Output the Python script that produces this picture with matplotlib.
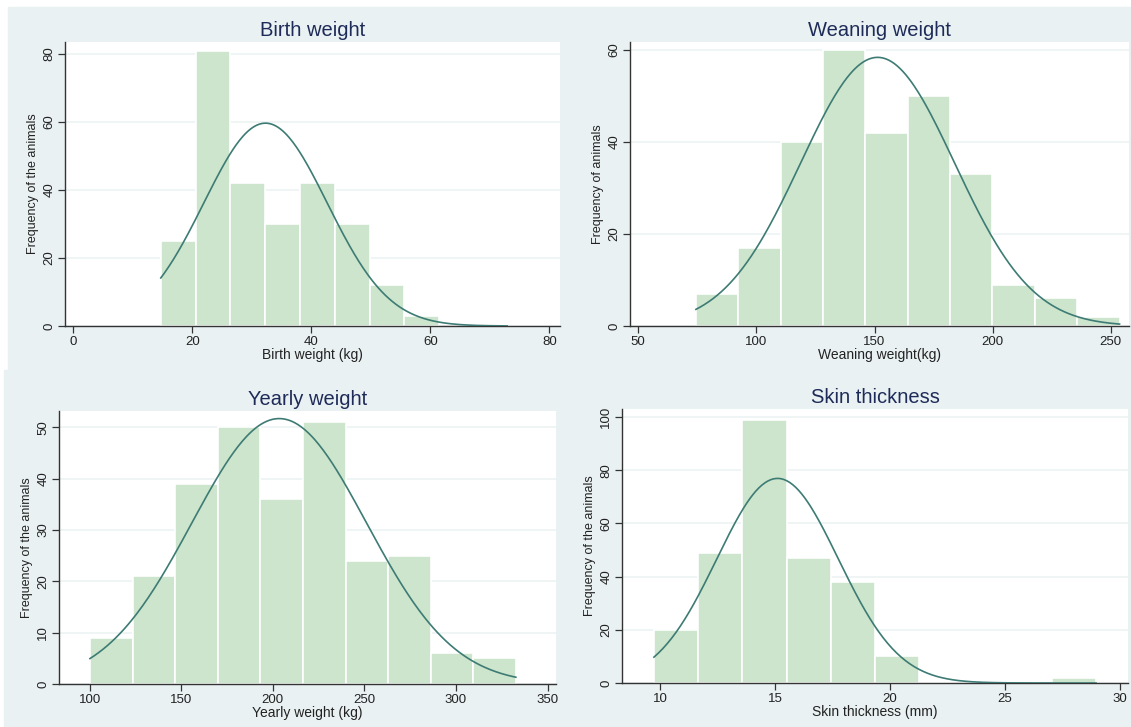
import numpy as np
import matplotlib
matplotlib.use("Agg")
import matplotlib.pyplot as plt
from matplotlib.patches import Rectangle

# histogram data (bin start, bin width, counts, fitted normal)
birth_start, birth_width = 14.7, 5.85
birth_counts = [25, 81, 42, 30, 42, 30, 12, 3]
birth_mean, birth_sd, birth_curve_end = 32.3, 10.37, 72.9

wean_start, wean_width = 74.4, 17.93
wean_counts = [7, 17, 40, 60, 42, 50, 33, 9, 6, 2]
wean_mean, wean_sd, wean_curve_end = 151.3, 32.6, 253.7

year_start, year_width = 100.2, 23.25
year_counts = [9, 21, 39, 50, 36, 51, 24, 25, 6, 5]
year_mean, year_sd, year_curve_end = 203.5, 47.7, 332.7

skin_start, skin_width = 9.73, 1.924
skin_counts = [20, 49, 99, 47, 38, 10, 0, 0, 0, 2]
skin_mean, skin_sd, skin_curve_end = 15.11, 2.645, 28.97

W, H = 1131, 727
BG = '#e9f1f3'
BAR = '#cce5cc'
LINE = '#3d7b74'
TITLE = '#1e2b58'

plt.rcParams['font.family'] = ['Liberation Sans', 'DejaVu Sans']
fig = plt.figure(figsize=(W / 100, H / 100), dpi=100)
fig.patch.set_facecolor('white')

# light bluish graph region backgrounds
fig.add_artist(Rectangle((8 / W, 1 - 377 / H), 1, (377 - 7) / H,
                         transform=fig.transFigure, color=BG, zorder=-10))
fig.add_artist(Rectangle((4 / W, 0), 1, (727 - 370) / H,
                         transform=fig.transFigure, color=BG, zorder=-10))


def make_axes(left, right, top, bottom):
    return fig.add_axes([left / W, 1 - bottom / H, (right - left) / W, (bottom - top) / H])


def draw_hist(ax, start, width, counts, mean, sd, curve_end, title, xlabel, ylabel,
              xlim, ylim, xticks, yticks):
    counts = np.array(counts)
    lefts = start + width * np.arange(len(counts))
    ax.bar(lefts, counts, width=width, align='edge', color=BAR,
           edgecolor='white', linewidth=1.2, zorder=2)
    n = counts.sum()
    xs = np.linspace(start, curve_end, 300)
    ys = n * width * np.exp(-0.5 * ((xs - mean) / sd) ** 2) / (sd * np.sqrt(2 * np.pi))
    ax.plot(xs, ys, color=LINE, linewidth=1.2, zorder=3)
    ax.set_xlim(*xlim)
    ax.set_ylim(*ylim)
    ax.set_xticks(xticks)
    ax.set_yticks(yticks)
    ax.set_facecolor('white')
    ax.grid(axis='y', color='#ecf3f4', linewidth=1.2, zorder=1)
    ax.set_axisbelow(True)
    for s in ['top', 'right']:
        ax.spines[s].set_visible(False)
    for s in ['left', 'bottom']:
        ax.spines[s].set_color('#333333')
        ax.spines[s].set_linewidth(1.0)
    ax.tick_params(axis='both', direction='out', length=5, width=0.9,
                   color='#333333', labelsize=9.5, labelcolor='#222222', pad=2)
    for lab in ax.get_yticklabels():
        lab.set_rotation(90)
        lab.set_va('center')
    ax.set_title(title, color=TITLE, fontsize=14.5, pad=4)
    ax.set_xlabel(xlabel, fontsize=10, color='#222222', labelpad=0)
    ax.set_ylabel(ylabel, fontsize=9, color='#222222', labelpad=3)


ax1 = make_axes(65, 560, 42, 326)
draw_hist(ax1, birth_start, birth_width, birth_counts, birth_mean, birth_sd, birth_curve_end,
          'Birth weight', 'Birth weight (kg)', 'Frequency of the animals',
          (-1.4, 81.8), (0, 83.5), [0, 20, 40, 60, 80], [0, 20, 40, 60, 80])

ax2 = make_axes(630, 1129, 42, 326)
draw_hist(ax2, wean_start, wean_width, wean_counts, wean_mean, wean_sd, wean_curve_end,
          'Weaning weight', 'Weaning weight(kg)', 'Frequency of animals',
          (46.5, 257.7), (0, 61.7), [50, 100, 150, 200, 250], [0, 20, 40, 60])

ax3 = make_axes(59, 556, 411, 684)
draw_hist(ax3, year_start, year_width, year_counts, year_mean, year_sd, year_curve_end,
          'Yearly weight', 'Yearly weight (kg)', 'Frequency of the animals',
          (83.3, 354.6), (0, 53.2), [100, 150, 200, 250, 300, 350], [0, 10, 20, 30, 40, 50])

ax4 = make_axes(622, 1128, 409, 683)
draw_hist(ax4, skin_start, skin_width, skin_counts, skin_mean, skin_sd, skin_curve_end,
          'Skin thickness', 'Skin thickness (mm)', 'Frequency of the animals',
          (8.34, 30.36), (0, 103), [10, 15, 20, 25, 30], [0, 20, 40, 60, 80, 100])

fig.savefig('out.png', dpi=100, facecolor=fig.get_facecolor())
